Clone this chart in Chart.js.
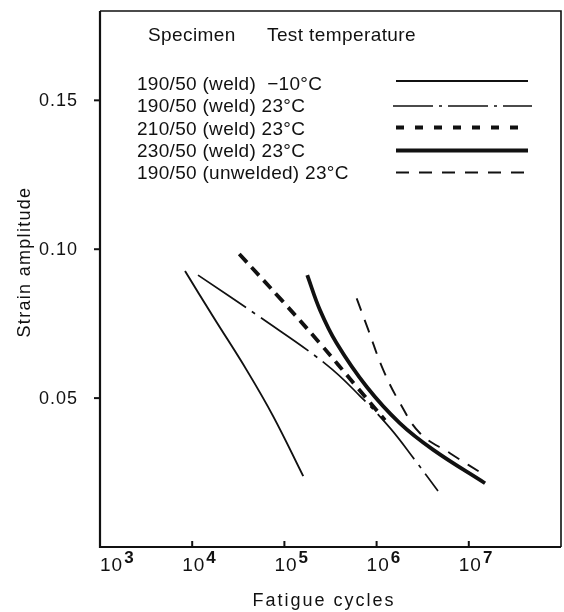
<html>
  <head>
    <title>Fatigue curves</title>
    <script src="https://cdn.jsdelivr.net/npm/chart.js@4.4.1/dist/chart.umd.min.js"></script>
    <style>
      body { margin: 0; background: white; }
      canvas { display: block; }
    </style>
  </head>
  <body>
    <canvas id="fatigueChart" width="564" height="612"></canvas>

  <script>
    // values
    const cycles1 = [8360, 16900, 39000, 75900, 160000];
    const strain1 = [0.0927, 0.0773, 0.0594, 0.0438, 0.0238];

    const cycles2 = [11560, 54300, 290000, 661000, 1396000, 2606000, 4634000];
    const strain2 = [0.0913, 0.0772, 0.0611, 0.0507, 0.0400, 0.0292, 0.0188];

    const cycles3 = [32400, 93300, 243000, 608000, 1233000];
    const strain3 = [0.0984, 0.0829, 0.0684, 0.0538, 0.0426];

    const cycles4 = [177000, 243000, 369000, 780000, 1795000, 4121000, 15000000];
    const strain4 = [0.0913, 0.0796, 0.0684, 0.0538, 0.0415, 0.0326, 0.0214];

    const cycles5 = [608000, 813000, 1183000, 1795000, 2958000, 6252000, 15630000];
    const strain5 = [0.0835, 0.0729, 0.0594, 0.0483, 0.0382, 0.0315, 0.0237];

    const seriesLabels = [
      "190/50 (weld)  \u221210°C",
      "190/50 (weld) 23°C",
      "210/50 (weld) 23°C",
      "230/50 (weld) 23°C",
      "190/50 (unwelded) 23°C"
    ];
    const legendHeader = ["Specimen", "Test temperature"];
    const xTickExponents = [3, 4, 5, 6, 7];
    const yTickValues = [0.05, 0.10, 0.15];
    const xTitle = "Fatigue cycles";
    const yTitle = "Strain amplitude";

    const FONT = '"Liberation Sans", Arial, sans-serif';
    const INK = "#111";

    function toPoints(xs, ys) {
      return xs.map((v, i) => ({ x: v, y: ys[i] }));
    }

    // line style per series, legend uses its own dash where the sample differs
    const styles = [
      { width: 1.9, dash: [], legendDash: [] },
      { width: 1.7, dash: [58, 7, 4, 7], legendDash: [40, 6, 3, 6] },
      { width: 3.8, dash: [11, 7], legendDash: [8, 11] },
      { width: 3.8, dash: [], legendDash: [] },
      { width: 1.9, dash: [13, 10], legendDash: [13, 10] }
    ];

    const allCycles = [cycles1, cycles2, cycles3, cycles4, cycles5];
    const allStrain = [strain1, strain2, strain3, strain4, strain5];

    const datasets = seriesLabels.map((label, i) => ({
      label: label,
      data: toPoints(allCycles[i], allStrain[i]),
      borderColor: INK,
      borderWidth: styles[i].width,
      borderDash: styles[i].dash,
      borderCapStyle: "butt",
      pointRadius: 0,
      fill: false,
      tension: 0.4
    }));

    // axes, tick labels, titles and the legend box are painted here,
    // positions come from the chart's own scales
    const decorations = {
      id: "decorations",
      afterDraw(chart) {
        const ctx = chart.ctx;
        const a = chart.chartArea;
        const x = chart.scales.x;
        const y = chart.scales.y;
        ctx.save();
        ctx.strokeStyle = INK;
        ctx.fillStyle = INK;
        ctx.setLineDash([]);

        // frame
        ctx.lineWidth = 2.2;
        ctx.beginPath();
        ctx.moveTo(a.left, a.top);
        ctx.lineTo(a.left, a.bottom);
        ctx.lineTo(a.right, a.bottom);
        ctx.stroke();
        ctx.lineWidth = 1.6;
        ctx.beginPath();
        ctx.moveTo(a.left, a.top);
        ctx.lineTo(a.right, a.top);
        ctx.lineTo(a.right, a.bottom);
        ctx.stroke();

        // y ticks (outside) and labels
        ctx.lineWidth = 2;
        ctx.font = "18px " + FONT;
        ctx.letterSpacing = "1px";
        ctx.textAlign = "right";
        ctx.textBaseline = "middle";
        yTickValues.forEach((v) => {
          const py = y.getPixelForValue(v);
          ctx.beginPath();
          ctx.moveTo(a.left - 6, py);
          ctx.lineTo(a.left, py);
          ctx.stroke();
          ctx.fillText(v.toFixed(2), a.left - 22, py + 1);
        });

        // x ticks (inside) and 10^n labels
        xTickExponents.forEach((n) => {
          const px = x.getPixelForValue(Math.pow(10, n));
          if (n > xTickExponents[0]) {
            ctx.beginPath();
            ctx.moveTo(px, a.bottom);
            ctx.lineTo(px, a.bottom - 6);
            ctx.stroke();
          }
          const start = Math.max(px - 10, a.left);
          ctx.textAlign = "left";
          ctx.font = "19px " + FONT;
          ctx.letterSpacing = "1px";
          ctx.fillText("10", start, a.bottom + 19);
          const w = ctx.measureText("10").width;
          ctx.font = "bold 17px " + FONT;
          ctx.letterSpacing = "0px";
          ctx.fillText(String(n), start + w + 1, a.bottom + 11);
        });

        // axis titles
        ctx.font = "18px " + FONT;
        ctx.letterSpacing = "2px";
        ctx.textAlign = "center";
        ctx.fillText(xTitle, 324, 601);
        ctx.save();
        ctx.translate(25, 262);
        ctx.rotate(-Math.PI / 2);
        ctx.letterSpacing = "1.3px";
        ctx.fillText(yTitle, 0, 0);
        ctx.restore();

        // legend
        ctx.textAlign = "left";
        ctx.font = "19px " + FONT;
        ctx.letterSpacing = "0.4px";
        ctx.fillText(legendHeader[0], 148, 36);
        ctx.fillText(legendHeader[1], 267, 36);
        ctx.letterSpacing = "0.3px";
        const rowY = [84.5, 107, 129.5, 151.5, 174];
        const lineY = [81, 106, 127.5, 150.5, 172.5];
        seriesLabels.forEach((label, i) => {
          ctx.fillText(label, 137, rowY[i]);
          ctx.lineWidth = styles[i].width;
          ctx.setLineDash(styles[i].legendDash);
          ctx.beginPath();
          ctx.moveTo(i === 1 ? 393 : 396, lineY[i]);
          ctx.lineTo(i === 1 ? 532 : 528, lineY[i]);
          ctx.stroke();
        });
        ctx.restore();
      }
    };

    const fatigueChart = new Chart(document.getElementById("fatigueChart"), {
      type: "line",
      data: { datasets: datasets },
      options: {
        responsive: false,
        animation: false,
        devicePixelRatio: 1,
        layout: { padding: { left: 100, top: 11, right: 3, bottom: 65 } },
        plugins: { legend: { display: false }, tooltip: { enabled: false } },
        scales: {
          x: { type: "logarithmic", min: 1000, max: 100000000, display: false },
          y: { type: "linear", min: 0, max: 0.18, display: false }
        }
      },
      plugins: [decorations]
    });
  </script>
  </body>
</html>
